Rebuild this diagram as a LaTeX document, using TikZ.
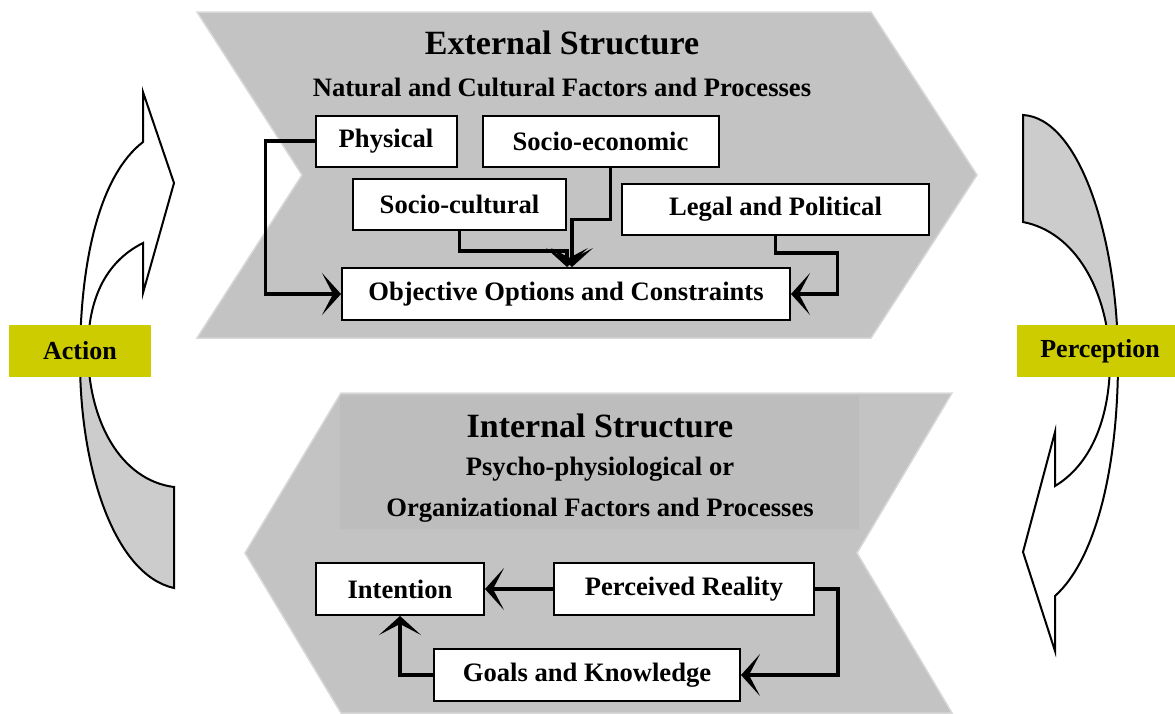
\documentclass[tikz,border=0pt]{standalone}
\usepackage{fontspec}
\setmainfont{Liberation Serif}
\usetikzlibrary{positioning,arrows.meta}
\definecolor{chevgray}{RGB}{195,195,195}
\definecolor{innergray}{RGB}{189,189,189}
\definecolor{edgegray}{RGB}{216,216,216}
\definecolor{bendgray}{RGB}{204,204,204}
\definecolor{tagyellow}{RGB}{204,204,0}
\newcommand{\actionbend}{(143,142) -- (143,92) -- (174,183) -- (143,293) -- (143,243)
    .. controls (105,262) and (88,300) .. (88,350) .. controls (88,420) and (120,480) .. (174,487)
    -- (174,588) .. controls (115,575) and (80,470) .. (80,360) .. controls (80,260) and (100,175) .. cycle}
\newcommand{\perceptbend}{(1023,115) .. controls (1080,118) and (1118,240) .. (1118,360)
    .. controls (1118,470) and (1095,560) .. (1055,596) -- (1055,651) -- (1023,552) -- (1055,432) -- (1055,486)
    .. controls (1090,465) and (1110,420) .. (1110,360) .. controls (1108,290) and (1075,232) .. (1023,222) -- cycle}
\begin{document}
\begin{tikzpicture}[x=1pt, y=-1pt, node distance=24pt,
        box/.style={draw, line width=2pt, fill=white, minimum height=51pt, inner sep=0pt,
            font=\fontsize{26.6}{30}\selectfont\bfseries},
        tag/.style={fill=tagyellow, minimum height=52pt, inner sep=0pt,
            font=\fontsize{26}{30}\selectfont\bfseries},
        link/.style={line width=3.6pt, -{Stealth[length=19pt, width=42pt, inset=11pt]}},
        chevron/.style={fill=chevgray, draw=edgegray, line width=1.5pt}]
                    \useasboundingbox (0,0) rectangle (1175,713);
                    \filldraw[chevron] (197,12) -- (871,12) -- (977,175) -- (871,338) -- (197,338) -- (302,175) -- cycle;
                    \filldraw[chevron] (341,393) -- (952,393) -- (857,553) -- (952,713) -- (341,713) -- (245,553) -- cycle;
                    \fill[innergray] (340,396) rectangle (859,529);

                    \node[font=\fontsize{34}{40}\selectfont\bfseries] (ext) at (562,43) {External Structure};
                    \node[font=\fontsize{26.6}{30}\selectfont\bfseries] (extsub) at (562,87) {Natural and Cultural Factors and Processes};
                    \node[font=\fontsize{34}{40}\selectfont\bfseries] (int) at (600,426) {Internal Structure};
                    \node[font=\fontsize{26.6}{41}\selectfont\bfseries, align=center] (intsub) at (600,490) {Psycho-physiological or\\Organizational Factors and Processes};

                    \node[box, minimum width=141pt] (phys) at (386,141) {Physical};
                    \node[box, minimum width=236pt, right=of phys] (econ) {Socio-economic};
                    \node[box, minimum width=213pt] (cult) at (459.5,204.5) {Socio-cultural};
                    \node[box, minimum width=307pt] (legal) at (775.5,209.5) {Legal and Political};
                    \node[box, minimum width=448pt, minimum height=52pt] (obj) at (566,294) {Objective Options and Constraints};

                    \node[box, minimum width=168pt, minimum height=52pt] (intent) at (400,589) {Intention};
                    \node[box, minimum width=260pt, minimum height=52pt, right=68pt of intent] (perc) {Perceived Reality};
                    \node[box, minimum width=306pt, minimum height=52pt] (goals) at (587,675) {Goals and Knowledge};

                    \draw[link] (phys.west) -- ++(-49,0) |- (obj.west);
                    \draw[link] ([xshift=10pt]econ.south) -- ++(0,52) -| ([xshift=6pt]obj.north);
                    \draw[link] (cult.south) -- ++(0,20) -| ([xshift=1pt]obj.north);
                    \draw[link] (legal.south) -- ++(0,17) -- ++(62,0) |- (obj.east);
                    \draw[link] (perc.west) -- (intent.east);
                    \draw[link] (perc.east) -- ++(23,0) |- (goals.east);
                    \draw[link] (goals.west) -| (intent.south);

                    \fill[white] \actionbend;
                    \begin{scope}
                        \clip (0,350) rectangle (200,713);
                        \fill[bendgray] \actionbend;
                    \end{scope}
                    \draw[line width=2pt, line join=miter] \actionbend;
                    \fill[white] \perceptbend;
                    \begin{scope}
                        \clip (990,0) rectangle (1175,350);
                        \fill[bendgray] \perceptbend;
                    \end{scope}
                    \draw[line width=2pt, line join=miter] \perceptbend;

                    \node[tag, minimum width=142pt] (action) at (80,351) {Action};
                    \node[tag, minimum width=166pt] (perception) at (1100,351) {Perception};
                \end{tikzpicture}
\end{document}
